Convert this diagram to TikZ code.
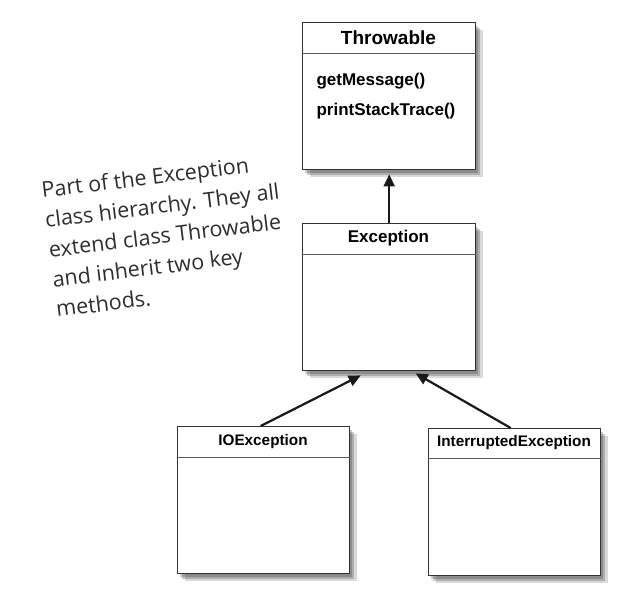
\documentclass[tikz,border=0pt]{standalone}
\usepackage{fontspec}
\setmainfont{Liberation Sans}
\newfontfamily\notefont{Open Sans}
\usepackage{xcolor}
\usetikzlibrary{shadows,arrows.meta}

\definecolor{inkgray}{HTML}{2E2E2E}
\definecolor{boxline}{HTML}{333333}

\tikzset{
  classbox/.style={draw=boxline, line width=1.4pt, fill=white, anchor=north west,
    minimum width=173pt, minimum height=147pt, inner sep=0pt,
    drop shadow={shadow xshift=2pt, shadow yshift=-3pt, opacity=0.2, fill=black},
    drop shadow={shadow xshift=4pt, shadow yshift=-5pt, opacity=0.2, fill=black},
    drop shadow={shadow xshift=7pt, shadow yshift=-7pt, opacity=0.15, fill=black}},
  divider/.style={draw=black!65, line width=0.9pt},
  inherit/.style={-{Triangle[length=12pt,width=11pt]}, line width=2.2pt, draw=black!90}
}

\begin{document}
\begin{tikzpicture}[x=1pt, y=1pt]
    \useasboundingbox (0,0) rectangle (621,595);

    % class boxes
    \node[classbox] (thr) at (302,573) {};
    \draw[divider] (thr.north west) ++(0,-31) coordinate (thrL) -- (thrL -| thr.east);
    \node[font=\fontsize{19}{19}\selectfont\bfseries, anchor=base] (thrname) at (388.5,550) {Throwable};
    \node[font=\fontsize{17}{17}\selectfont\bfseries, anchor=base west] (getmsg) at (313,509) {getMessage()};
    \node[font=\fontsize{17}{17}\selectfont\bfseries, anchor=base west] (printst) at (313,479) {printStackTrace()};

    \node[classbox] (exc) at (302,372) {};
    \draw[divider] (exc.north west) ++(0,-31) coordinate (excL) -- (excL -| exc.east);
    \node[font=\fontsize{17}{17}\selectfont\bfseries, anchor=base] (excname) at (388.5,352) {Exception};

    \node[classbox, minimum width=172pt] (ioe) at (177,169) {};
    \draw[divider] (ioe.north west) ++(0,-31) coordinate (ioeL) -- (ioeL -| ioe.east);
    \node[font=\fontsize{15.3}{15.3}\selectfont\bfseries, anchor=base] (ioename) at (263,150) {IOException};

    \node[classbox, minimum width=172pt] (intr) at (428,167) {};
    \draw[divider] (intr.north west) ++(0,-30) coordinate (intrL) -- (intrL -| intr.east);
    \node[font=\fontsize{15.3}{15.3}\selectfont\bfseries, anchor=base] (intrname) at (514,149) {InterruptedException};

    % inheritance arrows
    \draw[inherit] (exc.north) -- ([yshift=-4pt]thr.south);
    \draw[inherit] ([xshift=-3pt]ioe.north) -- ([xshift=-28.5pt,yshift=-4pt]exc.south);
    \draw[inherit] ([xshift=-4pt]intr.north) -- ([xshift=26.5pt,yshift=-2pt]exc.south);

    % handwritten note (base = last line)
    \node[font=\notefont\fontsize{21.5}{30}\selectfont, inkgray, rotate=7, inner sep=0pt,
      anchor=base west, align=left] (note) at (57,278)
      {Part of the Exception\\class hierarchy. They all\\extend class Throwable\\and inherit two key\\methods.};
\end{tikzpicture}
\end{document}
